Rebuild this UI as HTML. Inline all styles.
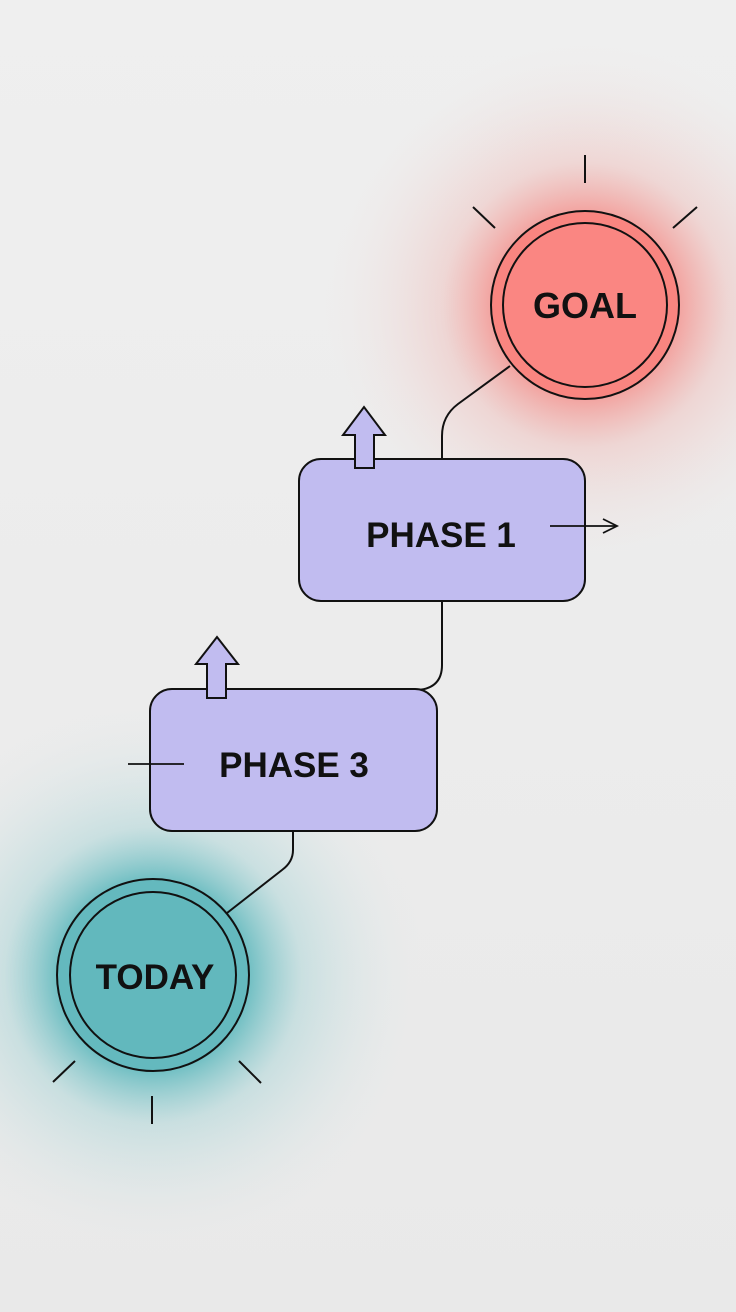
<!DOCTYPE html>
<html><head><meta charset="utf-8"><style>
html,body{margin:0;padding:0;background:#ebebeb;}
svg{display:block;}
text{font-family:"Liberation Sans",sans-serif;font-weight:bold;fill:#111;text-anchor:middle;}
</style></head><body>
<svg width="736" height="1312" viewBox="0 0 736 1312" xmlns="http://www.w3.org/2000/svg">
<defs>
<linearGradient id="bg" x1="0" y1="0" x2="0" y2="1"><stop offset="0" stop-color="#efefef"/><stop offset="1" stop-color="#e9e9e9"/></linearGradient>
<radialGradient id="rg" cx="0.5" cy="0.5" r="0.5">
<stop offset="0.35" stop-color="#f57f7a" stop-opacity="0.7"/>
<stop offset="0.55" stop-color="#f0a09a" stop-opacity="0.3"/>
<stop offset="1" stop-color="#efe0de" stop-opacity="0"/></radialGradient>
<radialGradient id="tg" cx="0.5" cy="0.5" r="0.5">
<stop offset="0.35" stop-color="#4fb3b8" stop-opacity="0.8"/>
<stop offset="0.55" stop-color="#8ccbce" stop-opacity="0.35"/>
<stop offset="1" stop-color="#dde8e9" stop-opacity="0"/></radialGradient>
</defs>
<rect width="736" height="1312" fill="url(#bg)"/>
<circle cx="585" cy="305" r="260" fill="url(#rg)"/>
<circle cx="153" cy="975" r="270" fill="url(#tg)"/>
<g stroke="#111" stroke-width="2" fill="none">
<path d="M510 366 L458 404 Q442 416 442 436 L442 460"/>
<path d="M442 601 L442 665 Q442 688 418 690"/>
<path d="M293 831 L293 850 Q293 862 282 870 L227 913"/>
<line x1="585" y1="155" x2="585" y2="183"/>
<line x1="473" y1="207" x2="495" y2="228"/>
<line x1="697" y1="207" x2="673" y2="228"/>
<line x1="53" y1="1082" x2="75" y2="1061"/>
<line x1="239" y1="1061" x2="261" y2="1083"/>
<line x1="152" y1="1096" x2="152" y2="1124"/>
</g>
<circle cx="585" cy="305" r="94" fill="#f98580" stroke="#111" stroke-width="2"/>
<circle cx="585" cy="305" r="82" fill="#fa8682" stroke="#111" stroke-width="2"/>
<text x="585" y="318" font-size="36">GOAL</text>
<circle cx="153" cy="975" r="96" fill="#64b9be" stroke="#111" stroke-width="2"/>
<circle cx="153" cy="975" r="83" fill="#62b8bd" stroke="#111" stroke-width="2"/>
<text x="155" y="989" font-size="35">TODAY</text>
<rect x="299" y="459" width="286" height="142" rx="22" fill="#c1bcf0" stroke="#111" stroke-width="2"/>
<text x="441" y="547" font-size="35">PHASE 1</text>
<rect x="150" y="689" width="287" height="142" rx="22" fill="#c1bcf0" stroke="#111" stroke-width="2"/>
<text x="294" y="777" font-size="35">PHASE 3</text>
<path d="M355 468 L355 435 L343 435 L364 407 L385 435 L374 435 L374 468 Z" fill="#c1bcf0" stroke="#111" stroke-width="2" stroke-linejoin="miter"/>
<path d="M207 698 L207 664 L196 664 L217 637 L238 664 L226 664 L226 698 Z" fill="#c1bcf0" stroke="#111" stroke-width="2"/>
<g stroke="#111" stroke-width="1.8" fill="none">
<line x1="550" y1="526" x2="616" y2="526"/>
<path d="M603 519 L617 526 L603 533"/>
<line x1="128" y1="764" x2="184" y2="764"/>
</g>
</svg>
</body></html>
